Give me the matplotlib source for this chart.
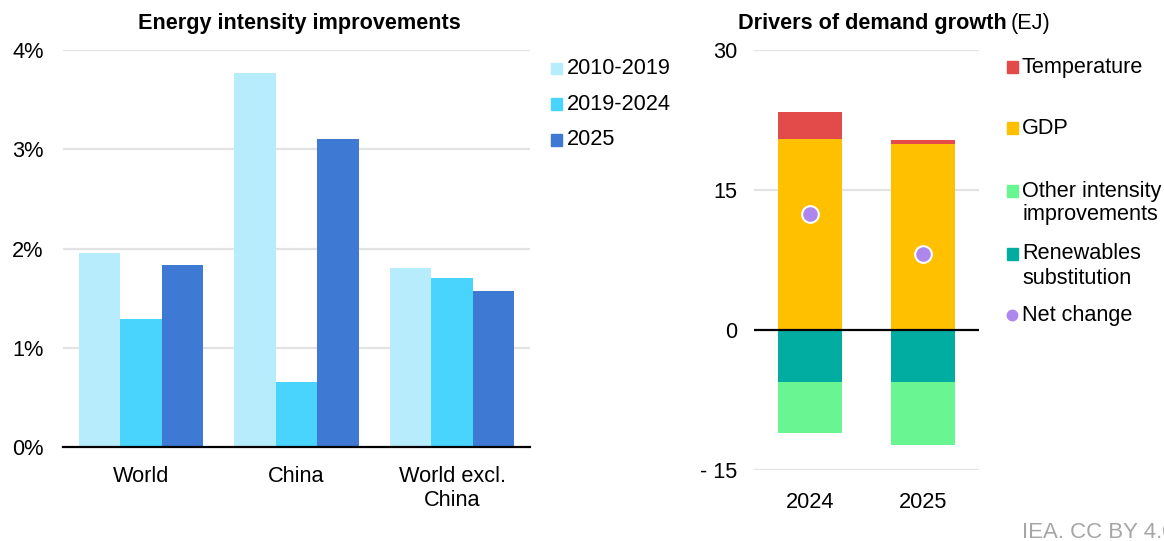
import matplotlib
matplotlib.use('Agg')
import matplotlib.pyplot as plt
from matplotlib.patches import Rectangle
from matplotlib.lines import Line2D
import numpy as np

plt.rcParams['font.family'] = ['Liberation Sans', 'DejaVu Sans']

# ---------------- data ----------------
regions = ['World', 'China', 'World excl.\nChina']
periods = ['2010-2019', '2019-2024', '2025']
v_2010_2019 = [1.95, 3.77, 1.80]
v_2019_2024 = [1.29, 0.65, 1.705]
v_2025 = [1.83, 3.10, 1.57]
left_yticks = [0, 1, 2, 3, 4]
left_yticklabels = ['0%', '1%', '2%', '3%', '4%']

years = ['2024', '2025']
temperature = [2.87, 0.48]
gdp = [20.5, 19.9]
renewables = [-5.6, -5.6]
other_intensity = [-5.45, -6.75]
net_change = [12.4, 8.1]
right_yticks = [-15, 0, 15, 30]
right_yticklabels = ['- 15', '0', '15', '30']
right_legend = ['Temperature', 'GDP', 'Other intensity\nimprovements',
                'Renewables\nsubstitution', 'Net change']

# ---------------- style ----------------
period_colors = ['#B6ECFC', '#48D4FD', '#3E7AD3']
c_temp, c_gdp, c_other, c_ren, c_net = '#E34B4B', '#FFC000', '#69F591', '#00ADA0', '#AE87EE'
grid_c = '#E3E3E3'
FS = 15.7
TFS = 15.6

W, H = 1164, 541
fig = plt.figure(figsize=(W / 100, H / 100), dpi=100)

def fx(px):
    return px / W

def fy(py):
    return 1 - py / H

# ---------------- left chart ----------------
ax1 = fig.add_axes([fx(63), fy(447), (530 - 63) / W, (447 - 50) / H])
x = np.arange(len(regions))
bw = 0.8 / 3
for i, (vals, c) in enumerate(zip([v_2010_2019, v_2019_2024, v_2025], period_colors)):
    ax1.bar(x + (i - 1) * bw, vals, width=bw, color=c, zorder=2, linewidth=0)
ax1.set_xlim(-0.5, 2.5)
ax1.set_ylim(0, 4)
for yv in left_yticks[1:]:
    ax1.axhline(yv, color=grid_c, lw=1.6, zorder=0)
ax1.set_yticks(left_yticks)
ax1.set_yticklabels(left_yticklabels)
ax1.set_xticks(x)
ax1.set_xticklabels(regions, linespacing=1.2)
for s in ['top', 'right', 'left']:
    ax1.spines[s].set_visible(False)
ax1.spines['bottom'].set_color('black')
ax1.spines['bottom'].set_linewidth(1.6)
ax1.spines['bottom'].set_zorder(3)
ax1.tick_params(axis='y', length=0, labelsize=FS, pad=14)
ax1.tick_params(axis='x', length=0, labelsize=FS, pad=13.5)

fig.text(fx(299), fy(24), 'Energy intensity improvements', ha='center', va='center',
         fontsize=TFS, fontweight='bold')

# left legend
for i, (lab, c) in enumerate(zip(periods, period_colors)):
    yc = 68 + i * 36
    fig.patches.append(Rectangle((fx(550.5), fy(yc + 5.5)), 11 / W, 11 / H,
                                 transform=fig.transFigure, color=c, figure=fig))
    fig.text(fx(566.5), fy(yc), lab, ha='left', va='center', fontsize=FS)

# ---------------- right chart ----------------
ax2 = fig.add_axes([fx(754), fy(470), (979 - 754) / W, (470 - 50) / H])
xr = np.arange(len(years))
bw2 = 0.57
ax2.bar(xr, gdp, width=bw2, color=c_gdp, zorder=2, linewidth=0)
ax2.bar(xr, temperature, bottom=gdp, width=bw2, color=c_temp, zorder=2, linewidth=0)
ax2.bar(xr, renewables, width=bw2, color=c_ren, zorder=2, linewidth=0)
ax2.bar(xr, other_intensity, bottom=renewables, width=bw2, color=c_other, zorder=2, linewidth=0)
ax2.plot(xr, net_change, 'o', ms=12, mfc=c_net, mec='white', mew=1.5, zorder=5, linestyle='none')
ax2.set_xlim(-0.5, 1.5)
ax2.set_ylim(-15, 30)
for yv in [-15, 15, 30]:
    ax2.axhline(yv, color=grid_c, lw=1.6, zorder=0)
ax2.axhline(0, color='black', lw=1.6, zorder=3)
ax2.set_yticks(right_yticks)
ax2.set_yticklabels(right_yticklabels)
ax2.set_xticks(xr)
ax2.set_xticklabels(years)
for s in ['top', 'right', 'left', 'bottom']:
    ax2.spines[s].set_visible(False)
ax2.tick_params(axis='y', length=0, labelsize=FS, pad=12)
ax2.tick_params(axis='x', length=0, labelsize=FS, pad=15.5)

t_bold = fig.text(fx(738), fy(24), 'Drivers of demand growth', ha='left', va='center',
                  fontsize=TFS, fontweight='bold')
fig.canvas.draw()
ext = t_bold.get_window_extent()
fig.text(ext.x1 / W + 4 / W, fy(24), '(EJ)', ha='left', va='center', fontsize=TFS)

# right legend
leg_colors = [c_temp, c_gdp, c_other, c_ren, c_net]
leg_rows = [67, 128, 191, 254, 315]
for lab, c, yc in zip(right_legend, leg_colors, leg_rows):
    if lab == 'Net change':
        fig.lines.append(Line2D([fx(1012)], [fy(yc)], marker='o', ms=7.5, color=c,
                                linestyle='none', transform=fig.transFigure, figure=fig))
    else:
        fig.patches.append(Rectangle((fx(1006.7), fy(yc + 5.5)), 11 / W, 11 / H,
                                     transform=fig.transFigure, color=c, figure=fig))
    for j, line in enumerate(lab.split('\n')):
        fig.text(fx(1022), fy(yc + j * 24), line, ha='left', va='center', fontsize=15.6)

fig.text(fx(1022), fy(533), 'IEA. CC BY 4.0', ha='left', va='center', fontsize=16,
         color='#A6A6A6')

fig.savefig('out.png', dpi=100)
